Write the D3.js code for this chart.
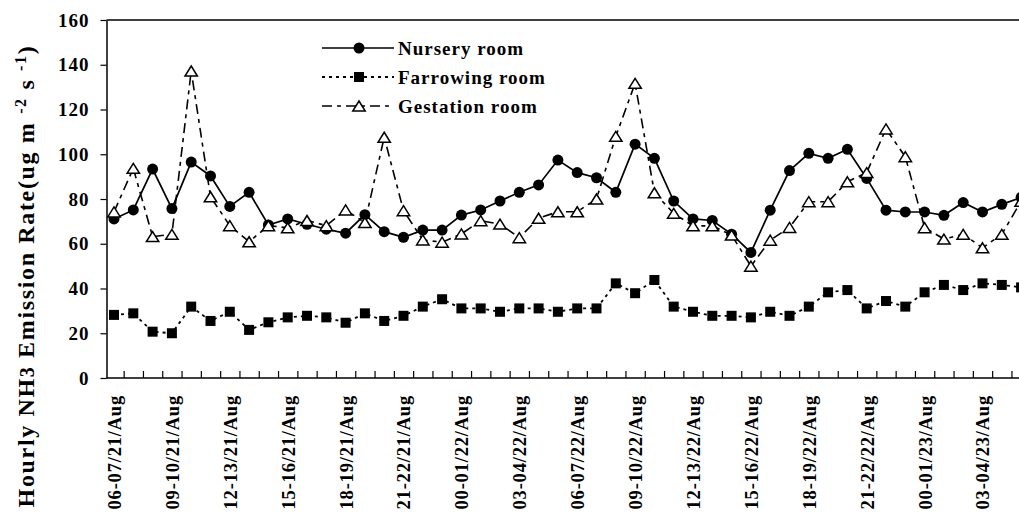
<!DOCTYPE html>
<html>
<head>
<meta charset="utf-8">
<script src="https://d3js.org/d3.v7.min.js"></script>
<style>
body { margin: 0; background: #fff; }
text { font-family: "Liberation Serif", "Times New Roman", serif; font-weight: bold; fill: #000; }
</style>
</head>
<body>
<script>

/******** Data *********/

// one value per hour, starting 06-07 on 21 Aug
var nursery = [71.1, 75.1, 93.4, 75.7, 96.5, 90.3, 76.7, 83, 68.4, 71.1, 68.7, 66.5,
  64.7, 73, 65.4, 62.9, 66.1, 66.1, 72.8, 75.1, 79.1, 83, 86.3, 97.4,
  91.8, 89.5, 83, 104.5, 98.2, 79.1, 71.1, 70.4, 64.3, 56.1, 75, 92.7,
  100.4, 98.2, 102.2, 89.2, 75, 74.2, 74.2, 72.7, 78.4, 74.2, 77.6, 80.7]

var farrowing = [28.2, 28.9, 20.7, 20, 31.9, 25.5, 29.6, 21.5, 24.9, 27.1, 27.8, 27.1,
  24.7, 28.9, 25.5, 27.8, 31.9, 35.2, 31.1, 31.1, 29.6, 31.1, 31.1, 29.6,
  31.1, 31.1, 42.3, 37.9, 43.8, 31.9, 29.6, 27.8, 27.8, 27.1, 29.6, 27.8,
  31.9, 38.3, 39.3, 31.1, 34.4, 31.9, 38.3, 41.6, 39.3, 42.3, 41.6, 40.5]

var gestation = [74.2, 93.7, 63.2, 64.2, 137.2, 81, 68.1, 60.9, 68.1, 67.1, 70.4, 68.1,
  75.1, 69.5, 107.6, 74.8, 61.7, 60.7, 64.4, 70.3, 68.8, 62.7, 71.4, 74.3,
  74.3, 80, 108, 131.7, 82.8, 73.6, 68, 68, 63.9, 50, 61.6, 67.3,
  78.8, 78.8, 87.7, 91.8, 111.3, 98.9, 67.2, 62.1, 64.2, 58.2, 64.2, 79]

var tick_labels = ["06-07/21/Aug", "09-10/21/Aug", "12-13/21/Aug", "15-16/21/Aug",
  "18-19/21/Aug", "21-22/21/Aug", "00-01/22/Aug", "03-04/22/Aug",
  "06-07/22/Aug", "09-10/22/Aug", "12-13/22/Aug", "15-16/22/Aug",
  "18-19/22/Aug", "21-22/22/Aug", "00-01/23/Aug", "03-04/23/Aug"]

var y_ticks = [0, 20, 40, 60, 80, 100, 120, 140, 160]

var series_names = ["Nursery room", "Farrowing room", "Gestation room"]

/******** Layout *********/

var width = 1019, height = 516
var plot_left = 106.5, plot_right = 1019, plot_top = 20, plot_bottom = 378

var svg = d3.select("body")
  .append("svg")
    .attr("width", width)
    .attr("height", height)

var x_scale = d3.scaleLinear()
  .domain([0, nursery.length - 1])
  .range([114, 114 + 19.3 * (nursery.length - 1)])

var y_scale = d3.scaleLinear()
  .domain([0, 160])
  .range([plot_bottom, plot_top])

/******** Axes *********/

var y_axis = d3.axisLeft(y_scale)
  .tickValues(y_ticks)
  .tickSize(6)
  .tickSizeOuter(0)
  .tickPadding(11)

var y_g = svg.append("g")
  .attr("transform", "translate(" + plot_left + ",0)")
  .call(y_axis)
y_g.select(".domain").attr("stroke-width", 1.5)
y_g.selectAll("line").attr("stroke-width", 1.2)
y_g.selectAll("text")
  .attr("font-size", "19px")
  .attr("letter-spacing", "1px")
  .attr("font-family", null)

// top frame line
svg.append("line")
  .attr("x1", plot_left).attr("x2", plot_right)
  .attr("y1", plot_top).attr("y2", plot_top)
  .attr("stroke", "#000")
  .attr("stroke-width", 1.3)

// category boundary ticks (inside)
var x_axis = d3.axisBottom(x_scale)
  .tickValues(d3.range(0.5, nursery.length - 1, 1))
  .tickSizeInner(-7)
  .tickSizeOuter(0)
  .tickFormat("")

var x_g = svg.append("g")
  .attr("transform", "translate(0," + plot_bottom + ")")
  .call(x_axis)
x_g.select(".domain")
  .attr("d", "M" + plot_left + ",0H" + plot_right)
  .attr("stroke-width", 1.5)
x_g.selectAll("line").attr("stroke-width", 1.2)

// rotated labels every third hour
var label_axis = d3.axisBottom(x_scale)
  .tickValues(tick_labels.map(function(d, i){ return i * 3 }))
  .tickSize(0)
  .tickFormat(function(d){ return tick_labels[d / 3] })

var lab_g = svg.append("g")
  .attr("transform", "translate(0," + plot_bottom + ")")
  .call(label_axis)
lab_g.select(".domain").remove()
lab_g.selectAll("text")
  .attr("font-size", "18.5px")
  .attr("letter-spacing", "0.8px")
  .attr("font-family", null)
  .attr("text-anchor", "end")
  .attr("transform", "rotate(-90)")
  .attr("x", -17)
  .attr("y", 0)
  .attr("dy", "0.35em")

/******** Y title *********/

var title = svg.append("text")
  .attr("transform", "translate(26,276) rotate(-90)")
  .attr("text-anchor", "middle")
  .attr("dy", "0.35em")
  .attr("font-size", "24px")
  .attr("letter-spacing", "1.65px")
title.append("tspan").text("Hourly NH")
title.append("tspan").attr("font-size", "20px").text("3")
title.append("tspan").text("  Emission Rate(ug m ")
title.append("tspan").attr("font-size", "16px").attr("baseline-shift", "super").text("-2")
title.append("tspan").text(" s ")
title.append("tspan").attr("font-size", "16px").attr("baseline-shift", "super").text("-1")
title.append("tspan").text(")")

/******** Lines *********/

var line = d3.line()
  .x(function(d, i){ return x_scale(i) })
  .y(function(d){ return y_scale(d) })

var styles = [
  {data: nursery, dash: null, width: 1.7},
  {data: farrowing, dash: "3,4", width: 1.8},
  {data: gestation, dash: "10,5,4,5", width: 1.6}
]

styles.forEach(function(s){
  svg.append("path")
    .attr("d", line(s.data))
    .attr("fill", "none")
    .attr("stroke", "#000")
    .attr("stroke-width", s.width)
    .attr("stroke-dasharray", s.dash)
})

/******** Markers *********/

var tri = "M0,-5.5L6.2,4.5L-6.2,4.5Z"

svg.selectAll("rect.farrowing")
  .data(farrowing)
  .enter()
  .append("rect")
    .attr("class", "farrowing")
    .attr("x", function(d, i){ return x_scale(i) - 5 })
    .attr("y", function(d){ return y_scale(d) - 5 })
    .attr("width", 10)
    .attr("height", 10)
    .attr("fill", "#000")

svg.selectAll("circle.nursery")
  .data(nursery)
  .enter()
  .append("circle")
    .attr("class", "nursery")
    .attr("cx", function(d, i){ return x_scale(i) })
    .attr("cy", function(d){ return y_scale(d) })
    .attr("r", 5.5)
    .attr("fill", "#000")

svg.selectAll("path.gestation")
  .data(gestation)
  .enter()
  .append("path")
    .attr("class", "gestation")
    .attr("d", tri)
    .attr("transform", function(d, i){
      return "translate(" + x_scale(i) + "," + (y_scale(d) + 0.5) + ")"
    })
    .attr("fill", "#fff")
    .attr("stroke", "#000")
    .attr("stroke-width", 1.5)

/******** Legend *********/

var legend_y = [48, 77, 106]
var leg = svg.append("g")

styles.forEach(function(s, i){
  leg.append("line")
    .attr("x1", 322).attr("x2", 394)
    .attr("y1", legend_y[i]).attr("y2", legend_y[i])
    .attr("stroke", "#000")
    .attr("stroke-width", s.width)
    .attr("stroke-dasharray", s.dash)
  leg.append("text")
    .attr("x", 398)
    .attr("y", legend_y[i])
    .attr("dy", "0.35em")
    .attr("font-size", "19px")
    .attr("letter-spacing", "1px")
    .text(series_names[i])
})

leg.append("circle")
  .attr("cx", 359).attr("cy", legend_y[0]).attr("r", 5.5).attr("fill", "#000")
leg.append("rect")
  .attr("x", 354).attr("y", legend_y[1] - 5).attr("width", 10).attr("height", 10).attr("fill", "#000")
leg.append("path")
  .attr("d", tri)
  .attr("transform", "translate(359," + (legend_y[2] + 0.5) + ")")
  .attr("fill", "#fff")
  .attr("stroke", "#000")
  .attr("stroke-width", 1.5)

</script>
</body>
</html>
